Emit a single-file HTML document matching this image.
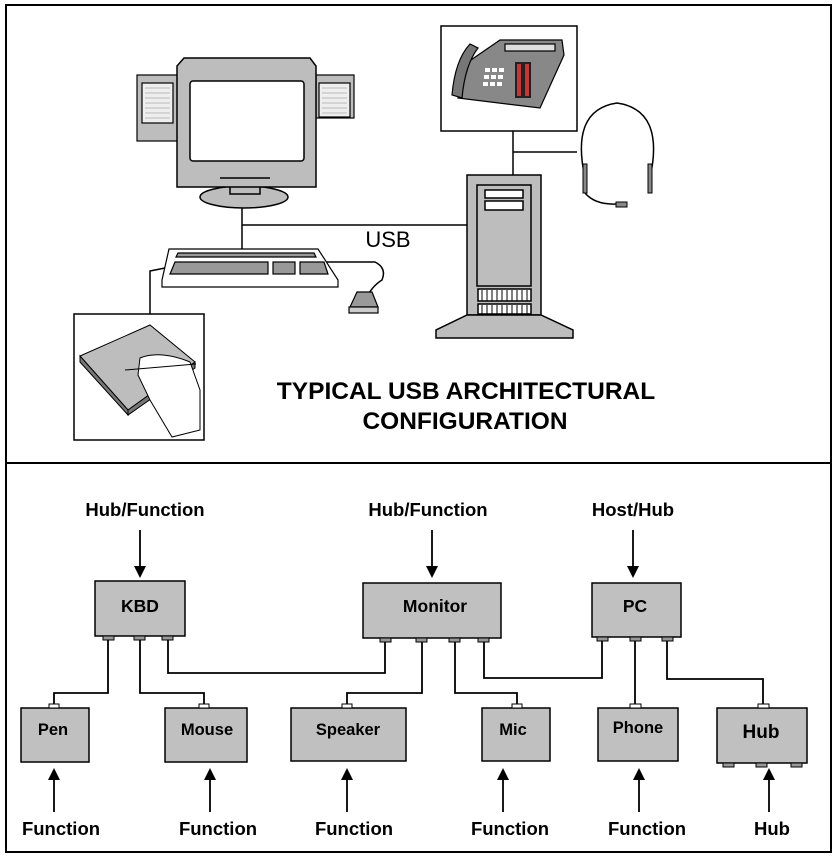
<!DOCTYPE html>
<html><head><meta charset="utf-8"><style>
html,body{margin:0;padding:0;background:#fff}
svg{display:block}
text{font-family:"Liberation Sans",Arial,sans-serif}
</style></head><body>
<svg width="837" height="857" viewBox="0 0 837 857" xmlns="http://www.w3.org/2000/svg">
<rect x="6" y="5" width="825" height="847" fill="#fff" stroke="#000" stroke-width="2"/>
<line x1="6" y1="463" x2="831" y2="463" stroke="#000" stroke-width="2"/>

<!-- top illustration -->
<g stroke="#000" stroke-width="1.5" fill="none">
<line x1="242" y1="206" x2="242" y2="250"/>
<line x1="242" y1="225" x2="467" y2="225"/>
<line x1="513" y1="131" x2="513" y2="175"/>
<line x1="513" y1="152" x2="577" y2="152"/>
<polyline points="165,268 150,271 150,314"/>
<path d="M326,262 L375,262 Q387,268 382,280 Q372,286 365,300"/>
</g>
<g stroke="#000" stroke-width="1.2">
<rect x="137" y="75" width="41" height="66" fill="#bdbdbd"/>
<rect x="142" y="83" width="31" height="40" fill="#eee"/>
<rect x="316" y="75" width="38" height="43" fill="#bdbdbd"/>
<rect x="319" y="83" width="31" height="34" fill="#eee"/>
</g>
<g stroke="#888" stroke-width="0.6">
<path d="M145,88h25M145,93h25M145,98h25M145,103h25M145,108h25M145,113h25M145,118h25M322,88h25M322,93h25M322,98h25M322,103h25M322,108h25M322,113h25"/>
</g>
<g stroke="#000" stroke-width="1.5">
<ellipse cx="244" cy="197" rx="44" ry="11" fill="#bdbdbd"/>
<rect x="230" y="184" width="30" height="10" fill="#bdbdbd"/>
<path d="M184,58 L310,58 L316,66 L316,187 L177,187 L177,66 Z" fill="#bdbdbd"/>
<rect x="190" y="81" width="114" height="80" rx="3" fill="#fff"/>
<line x1="220" y1="178" x2="270" y2="178"/>
</g>
<g stroke="#000" stroke-width="1.2">
<polygon points="169,249 318,249 338,280 338,287 162,287 162,280" fill="#fff"/>
<polygon points="178,253 314,253 316,257 176,257" fill="#999"/>
<polygon points="175,262 268,262 268,274 170,274" fill="#999"/>
<rect x="273" y="262" width="22" height="12" fill="#999"/>
<polygon points="300,262 324,262 328,274 300,274" fill="#999"/>
<polygon points="357,292 372,292 378,307 350,307" fill="#999"/>
<rect x="349" y="307" width="29" height="6" fill="#ccc"/>
</g>
<g stroke="#000" stroke-width="1.5">
<rect x="467" y="175" width="74" height="140" fill="#bdbdbd"/>
<rect x="477" y="185" width="54" height="101" fill="#bdbdbd"/>
<rect x="485" y="190" width="38" height="8" fill="#fff"/>
<rect x="485" y="201" width="38" height="9" fill="#fff"/>
<rect x="478" y="289" width="53" height="12" fill="#fff"/>
<rect x="478" y="304" width="53" height="10" fill="#fff"/>
<polygon points="467,315 541,315 573,330 573,338 436,338 436,330" fill="#bdbdbd"/>
</g>
<g stroke="#000" stroke-width="1"><path d="M482,290v11M487,290v11M492,290v11M497,290v11M502,290v11M507,290v11M512,290v11M517,290v11M522,290v11M527,290v11M482,305v9M487,305v9M492,305v9M497,305v9M502,305v9M507,305v9M512,305v9M517,305v9M522,305v9M527,305v9"/></g>
<rect x="441" y="26" width="136" height="105" fill="#fff" stroke="#000" stroke-width="1.5"/>
<g stroke="#000" stroke-width="1.2">
<polygon points="500,40 562,40 564,55 540,108 458,98 468,62" fill="#888"/>
<rect x="505" y="44" width="50" height="7" fill="#ddd"/>
<path d="M470,44 Q455,60 452,95 L462,98 Q465,65 478,48 Z" fill="#777"/>
</g>
<g fill="#fff"><rect x="485" y="68" width="5" height="4"/><rect x="492" y="68" width="5" height="4"/><rect x="499" y="68" width="5" height="4"/><rect x="484" y="75" width="5" height="4"/><rect x="491" y="75" width="5" height="4"/><rect x="498" y="75" width="5" height="4"/><rect x="483" y="82" width="5" height="4"/><rect x="490" y="82" width="5" height="4"/><rect x="497" y="82" width="5" height="4"/></g>
<g fill="#222"><rect x="515" y="62" width="16" height="36"/></g>
<g fill="#c33"><rect x="517" y="64" width="4" height="32"/><rect x="525" y="64" width="4" height="32"/></g>
<g stroke="#000" stroke-width="1.5" fill="none">
<path d="M585,178 Q570,110 617,103 Q665,110 650,178"/>
<path d="M585,193 Q595,205 617,204"/>
</g>
<rect x="583" y="164" width="4" height="29" fill="#888" stroke="#000"/>
<rect x="648" y="164" width="4" height="29" fill="#888" stroke="#000"/>
<rect x="616" y="202" width="11" height="5" fill="#888" stroke="#000"/>
<rect x="74" y="314" width="130" height="126" fill="#fff" stroke="#000" stroke-width="1.5"/>
<g stroke="#000" stroke-width="1">
<polygon points="80,356 150,325 195,362 128,410" fill="#bdbdbd"/>
<polygon points="80,356 128,410 128,415 80,362" fill="#777"/>
<polygon points="128,410 195,362 195,368 128,415" fill="#777"/>
<path d="M140,358 Q160,350 190,362 L200,390 L200,430 L172,437 L150,400 L138,375 Z" fill="#fff"/>
<line x1="125" y1="370" x2="196" y2="364"/>
</g>
<text x="388" y="247" font-size="22" text-anchor="middle">USB</text>
<text x="466" y="399" font-size="24.5" font-weight="bold" text-anchor="middle">TYPICAL USB ARCHITECTURAL</text>
<text x="465" y="429" font-size="24.5" font-weight="bold" text-anchor="middle">CONFIGURATION</text>

<g stroke="#000" stroke-width="1.8" fill="none">
<polyline points="108,640 108,693 54,693 54,705"/>
<polyline points="140,640 140,693 204,693 204,705"/>
<polyline points="168,640 168,673 385,673 385,641"/>
<polyline points="422,641 422,693 347,693 347,705"/>
<polyline points="455,641 455,693 517,693 517,705"/>
<polyline points="484,641 484,678 602,678 602,640"/>
<polyline points="635,640 635,705"/>
<polyline points="667,640 667,679 763,679 763,705"/>
<line x1="140" y1="530" x2="140" y2="568"/>
<line x1="432" y1="530" x2="432" y2="568"/>
<line x1="633" y1="530" x2="633" y2="568"/>
<line x1="54" y1="812" x2="54" y2="776"/>
<line x1="210" y1="812" x2="210" y2="776"/>
<line x1="347" y1="812" x2="347" y2="776"/>
<line x1="503" y1="812" x2="503" y2="776"/>
<line x1="639" y1="812" x2="639" y2="776"/>
<line x1="769" y1="812" x2="769" y2="776"/>
</g>
<g fill="#000">
<polygon points="134,566 146,566 140,578"/>
<polygon points="426,566 438,566 432,578"/>
<polygon points="627,566 639,566 633,578"/>
<polygon points="48,780 60,780 54,768"/>
<polygon points="204,780 216,780 210,768"/>
<polygon points="341,780 353,780 347,768"/>
<polygon points="497,780 509,780 503,768"/>
<polygon points="633,780 645,780 639,768"/>
<polygon points="763,780 775,780 769,768"/>
</g>
<g fill="#c0c0c0" stroke="#000" stroke-width="1.5">
<rect x="95" y="581" width="90" height="55"/>
<rect x="363" y="583" width="138" height="55"/>
<rect x="592" y="583" width="89" height="54"/>
<rect x="21" y="708" width="68" height="54"/>
<rect x="165" y="708" width="82" height="54"/>
<rect x="291" y="708" width="115" height="53"/>
<rect x="482" y="708" width="68" height="53"/>
<rect x="598" y="708" width="80" height="53"/>
<rect x="717" y="708" width="90" height="55"/>
</g>
<g fill="#999" stroke="#000" stroke-width="1">
<rect x="103" y="636" width="11" height="4"/><rect x="134" y="636" width="11" height="4"/><rect x="162" y="636" width="11" height="4"/>
<rect x="380" y="638" width="11" height="4"/><rect x="416" y="638" width="11" height="4"/><rect x="449" y="638" width="11" height="4"/><rect x="478" y="638" width="11" height="4"/>
<rect x="597" y="637" width="11" height="4"/><rect x="630" y="637" width="11" height="4"/><rect x="662" y="637" width="11" height="4"/>
<rect x="723" y="763" width="11" height="4"/><rect x="756" y="763" width="11" height="4"/><rect x="791" y="763" width="11" height="4"/>
</g>
<g fill="#fff" stroke="#000" stroke-width="1">
<rect x="49" y="704" width="10" height="4"/><rect x="199" y="704" width="10" height="4"/><rect x="342" y="704" width="10" height="4"/>
<rect x="512" y="704" width="10" height="4"/><rect x="630" y="704" width="11" height="4"/><rect x="758" y="704" width="11" height="4"/>
</g>
<g font-size="18.5" font-weight="bold" text-anchor="middle">
<text x="145" y="516">Hub/Function</text>
<text x="428" y="516">Hub/Function</text>
<text x="633" y="516">Host/Hub</text>
<text x="140" y="612" font-size="17.5">KBD</text>
<text x="435" y="612" font-size="17.5">Monitor</text>
<text x="635" y="612" font-size="17.5">PC</text>
<text x="53" y="735" font-size="16.5">Pen</text>
<text x="207" y="735" font-size="16.5">Mouse</text>
<text x="348" y="735" font-size="16.5">Speaker</text>
<text x="513" y="735" font-size="16.5">Mic</text>
<text x="638" y="733" font-size="16.5">Phone</text>
<text x="761" y="738" font-size="19">Hub</text>
<text x="61" y="835">Function</text>
<text x="218" y="835">Function</text>
<text x="354" y="835">Function</text>
<text x="510" y="835">Function</text>
<text x="647" y="835">Function</text>
<text x="772" y="835">Hub</text>
</g>
</svg>
</body></html>
